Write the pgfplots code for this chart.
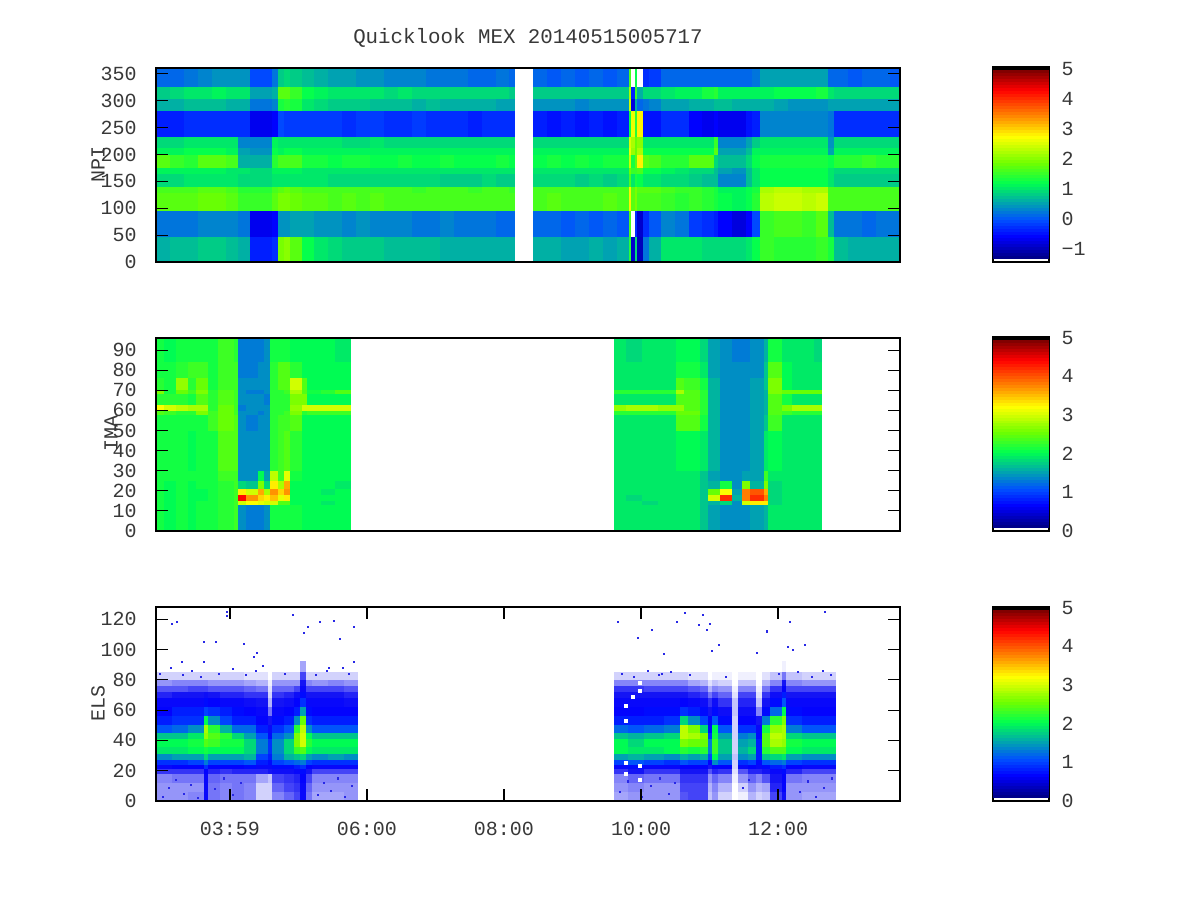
\documentclass[border=0pt]{standalone}
\usepackage{fontspec}
\setmainfont{Liberation Mono}
\usepackage{pgfplots}
\usepackage{pgfplotstable}
\pgfplotsset{compat=1.18}
% values are log10 flux in tenths; t and w (time position and cell width) are in picture columns
\pgfplotstableread{
t w A B C D E F G H I J K L M
163 14 1 8 6 -4 9 11 17 11 9 16 17 2 6
177 14 1 9 6 -4 9 11 15 11 9 16 17 2 7
191 14 2 10 7 -3 10 12 14 11 10 16 17 2 7
205 14 3 10 7 -3 10 12 17 11 10 17 18 3 8
219 14 4 11 7 -3 10 12 17 11 10 17 18 3 8
232 12 4 10 6 -3 10 11 16 10 10 16 17 3 7
244 12 4 10 6 -3 3 5 6 10 9 14 15 2 6
257 14 -1 5 2 -7 3 4 6 9 9 14 15 -7 -4
268 8 -1 5 2 -7 3 4 6 9 9 14 15 -7 -4
275 6 2 6 3 -6 11 12 14 11 10 16 17 -6 -3
281 6 8 17 13 -1 10 11 16 11 10 17 19 4 19
287 6 9 17 14 -2 10 12 16 11 10 18 19 4 20
296 12 8 15 13 -2 10 12 16 11 10 17 18 5 17
308 12 7 12 10 -2 10 11 13 10 10 16 17 5 12
321 14 6 11 9 -2 10 11 13 10 10 16 17 4 10
335 14 5 10 8 -2 10 11 12 10 9 16 16 4 9
349 14 5 10 8 -3 9 11 13 10 9 16 17 3 8
363 14 4 10 8 -2 9 11 13 10 9 16 16 4 8
377 14 4 10 7 -2 10 11 12 10 9 16 17 3 8
391 14 3 9 7 -3 9 11 12 10 9 16 16 3 7
405 14 3 10 7 -3 9 11 13 10 9 16 16 3 7
419 14 3 9 6 -2 9 11 12 10 9 15 16 2 7
433 14 2 9 7 -3 9 11 12 10 9 16 16 2 7
447 14 2 9 6 -3 9 11 13 10 8 16 16 3 6
461 14 2 9 6 -3 9 11 12 10 8 16 16 2 6
475 14 1 9 6 -4 9 11 12 10 8 15 16 2 6
489 14 1 9 6 -3 9 11 12 10 9 16 16 2 6
503 14 2 9 5 -3 9 11 13 10 8 16 16 1 6
512 5 1 8 5 -3 9 11 12 10 8 15 16 1 6
540 14 1 8 4 -4 9 11 12 10 9 16 16 1 6
554 14 0 8 4 -5 9 11 13 10 9 16 17 1 6
568 14 1 8 4 -4 9 11 12 10 9 16 16 0 5
582 14 0 8 3 -5 9 11 13 10 8 16 16 1 5
596 14 1 8 4 -4 9 11 12 10 9 16 16 0 6
610 14 0 8 4 -5 9 11 13 10 8 16 17 1 5
623 12 1 8 4 -4 9 11 13 10 9 16 16 0 6
630 2 16 22 24 12 25 26 24 18 16 28 28 16 14
633 4 -15 -4 -8 26 22 21 13 15 10 17 17 -15 -9
636 2 12 15 6 14 18 18 17 15 13 19 19 -3 9
640 6 -15 6 1 28 20 22 28 16 12 17 16 -9 -10
646 6 -3 9 2 -5 10 12 17 12 10 17 16 -3 2
655 12 -2 9 3 -5 10 12 16 12 10 17 16 0 6
668 14 1 10 5 -3 10 12 14 11 9 16 15 3 10
682 14 1 11 5 -3 10 12 14 10 9 15 14 2 10
696 14 1 11 6 -6 10 12 17 9 8 15 15 -2 10
708 12 1 13 6 -7 10 12 17 9 7 14 14 -3 9
716 4 1 14 7 -6 15 17 9 7 7 13 13 -4 9
725 14 1 11 7 -7 3 5 7 5 3 11 12 -6 9
739 14 1 11 6 -7 3 5 7 4 3 11 11 -8 9
749 6 1 11 6 -5 5 7 9 7 7 12 12 -6 10
756 8 2 11 6 -4 8 11 12 10 10 13 14 -1 12
767 14 5 11 6 3 10 11 13 12 12 22 23 15 15
781 14 5 12 5 3 10 11 13 12 12 23 24 16 14
795 14 5 12 4 3 10 11 13 12 12 23 24 16 14
809 14 5 12 4 3 10 11 13 12 12 22 23 15 14
822 12 5 13 4 3 10 11 13 12 12 22 24 17 15
831 6 1 10 5 2 4 5 12 10 10 16 16 7 13
841 14 1 9 5 -3 9 11 14 9 8 16 16 2 7
855 14 0 9 5 -3 9 11 14 9 8 16 16 2 6
869 14 1 9 5 -3 9 11 15 9 8 16 16 1 6
883 14 1 9 5 -3 9 11 14 9 8 16 16 2 6
895 10 0 9 5 -3 9 11 14 9 8 16 16 2 6
}\npi
\pgfplotstableread{
t w a b c d e f g h i j k l m n o
160 8 21 21 21 21 21 21 21 21 24 32 22 26 22 21 21
170 12 20 20 20 20 20 21 21 21 23 30 22 21 21 21 20
182 12 21 21 21 21 21 21 21 21 22 29 22 25 27 22 21
192 8 20 20 20 20 20 21 20 21 22 28 21 23 22 23 21
202 12 21 21 20 20 21 21 21 21 26 28 24 26 25 23 21
213 10 21 21 21 21 21 21 21 23 23 22 22 22 21 21 21
226 16 22 22 22 22 22 23 24 25 25 25 24 24 23 23 23
236 4 23 23 23 23 23 23 24 24 23 23 23 23 23 23 22
242 8 14 30 44 33 18 14 14 14 14 13 14 14 14 13 13
252 12 13 32 37 30 17 14 14 13 14 14 14 13 14 13 13
261 6 13 31 34 36 26 20 14 14 13 14 14 13 14 14 13
267 6 14 30 33 28 18 15 14 14 14 14 13 14 14 14 14
274 8 21 30 35 37 33 29 22 22 22 22 22 22 22 22 21
281 6 21 24 31 34 28 23 23 23 22 22 22 22 24 24 21
287 6 21 24 33 37 36 31 24 23 23 22 22 23 24 24 21
296 12 21 20 20 20 20 21 22 24 26 27 26 28 30 22 20
305 6 20 20 20 20 20 20 20 20 22 30 26 24 24 20 20
314 14 20 20 20 20 20 20 20 20 23 30 20 21 20 20 20
328 14 20 19 20 19 20 20 20 20 23 30 20 22 20 20 20
343 16 20 20 20 20 19 20 20 20 23 30 20 24 20 20 19
620 12 19 19 19 19 19 19 19 19 22 27 19 22 19 19 19
634 16 19 19 18 19 19 19 19 19 22 28 19 22 19 19 18
650 16 19 18 19 19 19 19 19 19 22 28 19 22 19 19 19
667 18 19 19 19 19 19 19 19 19 22 27 19 22 19 19 19
680 8 19 19 19 19 19 19 20 24 25 27 24 28 24 21 20
692 16 19 19 19 19 19 19 20 24 25 24 24 24 23 21 20
704 8 17 17 17 17 17 17 19 21 22 22 22 22 21 19 18
714 12 15 16 30 25 16 15 16 16 16 16 16 16 16 15 15
726 12 14 18 42 32 21 14 14 14 14 14 14 14 14 14 14
737 10 14 14 16 15 14 14 14 14 14 14 14 14 14 14 13
746 8 14 30 38 38 26 15 14 14 14 14 14 14 14 14 13
757 14 15 33 42 40 16 15 15 15 15 15 15 15 15 14 14
766 4 16 33 38 36 26 23 19 17 16 16 16 16 17 17 16
775 14 19 18 18 18 18 19 20 23 24 24 24 26 26 24 21
787 10 19 19 19 19 19 19 19 19 23 26 21 25 20 20 19
803 22 19 19 19 19 19 19 19 19 22 28 19 25 19 19 19
818 8 19 19 19 19 19 19 19 19 22 28 19 25 19 19 18
}\ima
\pgfplotstableread{
t w a b c d e f g h i j k l m n o p q r s
164 16 -5 -5 -4 1 5 9 14 19 20 17 11 8 6 5 2 -1 -5 -9 -12
180 16 -5 -5 -3 1 6 9 15 19 20 17 12 9 8 5 3 -1 -4 -9 -12
196 16 -4 -5 -3 1 6 10 15 20 21 19 14 9 8 5 3 0 -4 -9 -12
206 4 5 5 5 6 9 13 18 21 24 27 28 20 10 7 4 0 -4 -9 -12
214 12 -3 -3 -2 2 6 10 15 20 23 24 22 14 9 6 3 -1 -5 -9 -12
226 12 -4 -4 -3 1 6 10 15 20 21 22 16 10 8 5 2 -1 -5 -9 -12
238 12 -3 -3 -3 2 6 10 15 20 21 18 12 8 7 5 2 -1 -5 -9 -12
250 12 -4 -4 -3 2 7 11 16 18 18 15 12 8 6 4 1 -2 -6 -10 -12
262 12 -9 -9 -6 2 5 8 10 13 13 11 8 6 5 3 1 -3 -7 -10 -12
270 4 -9 -9 -8 3 5 7 8 9 9 7 5 3 -3 -7 -9 -10 -11 -12 -12
278 12 -4 -2 0 4 7 10 13 14 14 12 9 7 5 3 1 -2 -5 -9 -12
289 10 -2 0 1 4 7 11 16 18 18 14 11 8 6 4 2 -2 -5 -9 -12
297 6 0 1 2 5 8 12 17 23 26 26 22 14 8 6 4 0 -5 -9 -12
303 6 5 5 6 7 9 13 18 24 30 30 29 25 15 9 7 5 3 0 -6
309 6 -3 -2 0 3 6 10 15 20 22 20 14 9 7 5 3 0 -4 -9 -12
320 16 -6 -5 -4 0 5 9 14 19 20 17 11 8 6 5 3 0 -5 -9 -12
336 16 -6 -5 -4 0 5 9 15 19 20 17 11 8 6 5 3 0 -4 -9 -12
351 14 -5 -5 -4 0 5 9 14 19 20 17 11 8 6 4 2 -1 -5 -9 -12
621 14 -6 -5 -4 1 5 10 15 20 20 17 12 8 6 5 3 1 -4 -9 -12
636 16 -5 -4 -2 3 7 11 16 19 18 16 11 8 6 5 3 1 -4 -9 -12
654 20 -5 -5 -3 1 5 10 15 19 20 17 12 8 7 5 3 0 -4 -9 -12
672 16 -5 -5 -3 1 5 9 14 20 20 18 13 9 7 5 3 0 -4 -9 -12
684 8 -1 0 1 3 6 11 16 22 26 29 29 18 9 6 3 0 -4 -9 -12
694 12 0 0 1 3 6 10 15 21 25 28 26 14 8 5 2 -1 -6 -10 -12
704 8 0 0 1 3 6 10 16 22 25 26 18 10 7 4 1 -2 -7 -10 -12
710 4 -8 -7 -5 -1 3 6 10 13 13 9 7 6 3 1 -3 -7 -10 -12 -12
715 6 -5 -4 -2 2 6 14 20 23 23 21 20 11 7 4 0 -4 -8 -11 -12
725 14 -9 -7 -4 1 6 11 15 17 17 15 11 7 4 1 -2 -5 -9 -11 -12
735 6 -12 -12 -11 -10 -9 -9 -8 -9 -9 -9 -9 -9 -8 -8 -10 -11 -12 -12 -12
743 10 -11 -9 -5 -1 5 9 14 16 15 13 9 6 4 2 0 -4 -8 -11 -12
752 8 -7 -5 -2 2 6 10 15 18 16 14 9 6 4 2 0 -4 -8 -11 -12
759 6 -9 -7 -4 2 5 7 8 8 8 7 5 3 -4 -8 -10 -11 -12 -12 -12
766 8 -8 -6 -1 3 7 11 17 22 24 24 21 13 7 3 1 -3 -7 -10 -12
776 12 0 2 3 5 8 12 18 24 28 29 27 22 12 7 4 1 -4 -8 -12
784 4 4 6 6 7 9 13 19 24 27 28 28 26 20 11 8 6 3 -3 -11
794 16 -5 -5 -3 2 6 10 15 20 21 18 13 9 7 5 3 0 -4 -8 -12
816 28 -6 -5 -4 0 5 9 14 19 20 17 11 8 6 5 3 0 -5 -9 -12
833 6 -6 -5 -4 0 5 9 14 19 20 17 11 8 6 5 3 0 -5 -9 -12
}\els
\pgfplotstableread{
t y
227 125
227 122
172 117
177 118
204 105
216 105
244 104
257 98
254 95
182 92
204 92
263 89
256 86
293 123
308 115
320 118
334 119
354 115
304 111
340 107
354 92
329 88
343 88
618 118
685 124
703 123
677 118
699 116
710 117
707 113
652 113
638 108
664 97
719 103
712 99
767 112
757 98
788 102
793 100
805 103
825 125
790 118
662 84
160 84
171 88
183 83
192 86
201 82
219 84
233 87
246 83
285 84
316 83
327 86
349 84
622 84
634 82
648 86
659 83
671 85
690 83
726 82
779 84
798 85
812 82
823 86
831 83
163 3
169 9
176 14
184 5
191 11
198 2
215 8
224 15
233 4
241 12
318 4
324 12
331 7
338 15
345 3
352 10
620 6
628 13
642 3
651 10
660 15
669 5
675 12
743 9
749 14
800 6
808 13
816 3
824 9
832 15
}\elsdots
\pgfplotstableread{
t y
626 63
626 53
640 78
640 73
640 23
640 14
626 25
626 18
633 69
}\elsholes
\pgfplotstableread{
p
4
13
22
31
40
49
58
67
76
85
94
103
112
121
130
139
148
157
166
175
184
193
202
211
220
229
238
247
256
265
274
283
292
301
310
319
328
337
346
355
364
373
382
391
400
409
418
427
436
445
454
463
472
481
490
499
508
517
526
535
544
553
562
571
}\cbar
\colorlet{txt}{black!78}
\pgfplotsset{
 colormap={gpal}{rgb255(0)=(255,255,255) rgb255(9)=(255,255,255) rgb255(10)=(0,0,130) rgb255(75)=(0,0,255) rgb255(125)=(0,80,255) rgb255(180)=(0,170,170) rgb255(235)=(0,255,80) rgb255(295)=(110,255,0) rgb255(375)=(255,255,0) rgb255(440)=(255,130,0) rgb255(515)=(255,0,0) rgb255(572)=(130,0,0) rgb255(573)=(0,0,0) rgb255(585)=(0,0,0)},
 colormap={emap}{rgb255(0)=(255,255,255) rgb255(70)=(165,165,250) rgb255(175)=(20,20,245) rgb255(215)=(0,0,255) rgb255(265)=(0,80,255) rgb255(320)=(0,170,170) rgb255(375)=(0,255,80) rgb255(435)=(110,255,0) rgb255(515)=(255,255,0) rgb255(580)=(255,130,0) rgb255(655)=(255,0,0) rgb255(712)=(130,0,0) rgb255(725)=(130,0,0)},
 cell/.style={only marks, scatter, point meta=explicit,
  visualization depends on={\thisrow{w}*0.375+0.12 \as \cw},
  scatter/@pre marker code/.append style={/tikz/mark size=\cw}},
 panel/.style={scale only axis, width=558pt, xmin=156, xmax=900,
  axis line style={line width=1pt}, tick style={line width=0.8pt,black},
  major tick length=9pt, tick align=inside,
  xtick pos=both, ytick pos=both, xticklabel pos=lower, yticklabel pos=left,
  /pgf/number format/assume math mode=true,
  tick label style={font=\fontsize{15}{15}\selectfont, text=txt},
  yticklabel style={xshift=-11pt}, xticklabel style={yshift=-12.5pt}},
 bar/.style={scale only axis, width=42pt, xmin=0, xmax=56, ymin=-10, ymax=575,
  point meta min=-10, point meta max=575, colormap name=gpal, axis on top,
  axis line style={line width=0.8pt}, xtick=\empty, major tick length=0pt,
  ytick pos=right, yticklabel pos=right,
  tick label style={font=\fontsize{15}{15}\selectfont, text=txt},
  yticklabel style={xshift=6pt}},
}
\pgfdeclareplotmark{cbmark}{\pgfpathrectangle{\pgfqpoint{-21pt}{-1.2pt}}{\pgfqpoint{42pt}{2.4pt}}\pgfusepathqfill}
\newcommand\declcell[2]{\pgfdeclareplotmark{#1}{\pgfpathrectangle{\pgfpoint{-\pgfplotmarksize}{-#2pt}}{\pgfpoint{2\pgfplotmarksize}{2*#2pt}}\pgfusepathqfill}}
% \band{table}{lo}{hi}{column}: a row of cells spanning lo..hi on the y axis; \py = pixels per y unit
\newcommand\band[4]{%
 \pgfmathsetmacro\bc{(#2+#3)/2}%
 \pgfmathsetmacro\bh{(#3-#2)/2*\py*0.75+0.12}%
 \edef\tmp{\noexpand\declcell{cm\pid#4}{\bh}}\tmp
 \edef\tmp{\noexpand\addplot[cell, mark=cm\pid#4] table[x=t, y expr=\bc, meta=#4]{\noexpand#1};}\tmp
}
\begin{document}
\begin{tikzpicture}
\path[use as bounding box] (0,0) rectangle (900pt,675pt);
% NPI data, then its frame and ticks above the cells
\begin{axis}[panel, hide axis, at={(117pt,478.5pt)}, anchor=south west, height=145.5pt,
 ymin=0, ymax=361,
 colormap name=gpal, point meta min=-14.44, point meta max=50.6]
\def\py{0.5371}\def\pid{n}
\band{\npi}{326}{362}{A}
\band{\npi}{303}{326}{B}
\band{\npi}{280}{303}{C}
\band{\npi}{233}{280}{D}
\band{\npi}{211}{233}{E}
\band{\npi}{198}{211}{F}
\band{\npi}{175}{198}{G}
\band{\npi}{164}{175}{H}
\band{\npi}{140}{164}{I}
\band{\npi}{128}{140}{J}
\band{\npi}{94}{128}{K}
\band{\npi}{47}{94}{L}
\band{\npi}{0}{47}{M}
\end{axis}
\begin{axis}[panel, at={(117pt,478.5pt)}, anchor=south west, height=145.5pt,
 ymin=0, ymax=361, xtick=\empty, ytick={0,50,...,350}]
\end{axis}
% IMA
\begin{axis}[panel, hide axis, at={(117pt,276.75pt)}, anchor=south west, height=144.75pt,
 ymin=0, ymax=96,
 colormap name=gpal, point meta min=0, point meta max=50.2]
\def\py{2.011}\def\pid{i}
\band{\ima}{0}{13}{a}
\band{\ima}{13}{15}{b}
\band{\ima}{15}{18}{c}
\band{\ima}{18}{21}{d}
\band{\ima}{21}{25}{e}
\band{\ima}{25}{30}{f}
\band{\ima}{30}{50}{g}
\band{\ima}{50}{58}{h}
\band{\ima}{58}{60}{i}
\band{\ima}{60}{63}{j}
\band{\ima}{63}{68}{k}
\band{\ima}{68}{70}{l}
\band{\ima}{70}{76}{m}
\band{\ima}{76}{84}{n}
\band{\ima}{84}{96}{o}
\end{axis}
\begin{axis}[panel, at={(117pt,276.75pt)}, anchor=south west, height=144.75pt,
 ymin=0, ymax=96, xtick=\empty, ytick={0,10,...,90}]
\end{axis}
% ELS
\begin{axis}[panel, hide axis, at={(117pt,74.25pt)}, anchor=south west, height=145.5pt,
 ymin=0, ymax=128,
 colormap name=emap, point meta min=-12, point meta max=50.2]
\def\py{1.517}\def\pid{e}
\band{\els}{0}{6}{a}
\band{\els}{6}{12}{b}
\band{\els}{12}{18}{c}
\band{\els}{18}{21}{d}
\band{\els}{21}{24}{e}
\band{\els}{24}{27}{f}
\band{\els}{27}{31}{g}
\band{\els}{31}{36}{h}
\band{\els}{36}{41}{i}
\band{\els}{41}{45}{j}
\band{\els}{45}{50}{k}
\band{\els}{50}{56}{l}
\band{\els}{56}{62}{m}
\band{\els}{62}{68}{n}
\band{\els}{68}{72}{o}
\band{\els}{72}{76}{p}
\band{\els}{76}{80}{q}
\band{\els}{80}{85}{r}
\band{\els}{85}{92}{s}
\addplot[only marks, mark=square*, mark size=0.4pt, color={rgb,255:red,40;green,40;blue,230}] table[x=t,y=y]{\elsdots};
\addplot[only marks, mark=square*, mark size=1.1pt, color=white] table[x=t,y=y]{\elsholes};
\end{axis}
\begin{axis}[panel, at={(117pt,74.25pt)}, anchor=south west, height=145.5pt,
 ymin=0, ymax=128, xtick={230,367,504,641,778},
 xticklabels={03:59,06:00,08:00,10:00,12:00}, ytick={0,20,...,120}]
\end{axis}
% colour bars
\begin{axis}[bar, at={(744.75pt,478.5pt)}, anchor=south west, height=146.25pt,
 ytick={30,120,210,300,390,480,570}, yticklabels={−1,0,1,2,3,4,5}]
\addplot[only marks, scatter, point meta=explicit, mark=cbmark] table[x expr=28, y=p, meta=p]{\cbar};
\end{axis}
\begin{axis}[bar, at={(744.75pt,276.75pt)}, anchor=south west, height=145.5pt,
 ytick={-10,106.6,223.2,339.8,456.4,573}, yticklabels={0,1,2,3,4,5}]
\addplot[only marks, scatter, point meta=explicit, mark=cbmark] table[x expr=28, y=p, meta=p]{\cbar};
\end{axis}
\begin{axis}[bar, at={(744.75pt,74.25pt)}, anchor=south west, height=145.5pt,
 ytick={-10,106.6,223.2,339.8,456.4,573}, yticklabels={0,1,2,3,4,5}]
\addplot[only marks, scatter, point meta=explicit, mark=cbmark] table[x expr=28, y=p, meta=p]{\cbar};
\end{axis}
\node[text=txt,font=\fontsize{15.6}{16}\selectfont] at (396pt,646.5pt) {Quicklook MEX 20140515005717};
\node[text=txt,rotate=90,font=\fontsize{15}{15}\selectfont] at (73.5pt,551.25pt) {NPI};
\node[text=txt,rotate=90,font=\fontsize{15}{15}\selectfont] at (83.25pt,349.5pt) {IMA};
\node[text=txt,rotate=90,font=\fontsize{15}{15}\selectfont] at (73.5pt,147.75pt) {ELS};
\end{tikzpicture}
\end{document}
